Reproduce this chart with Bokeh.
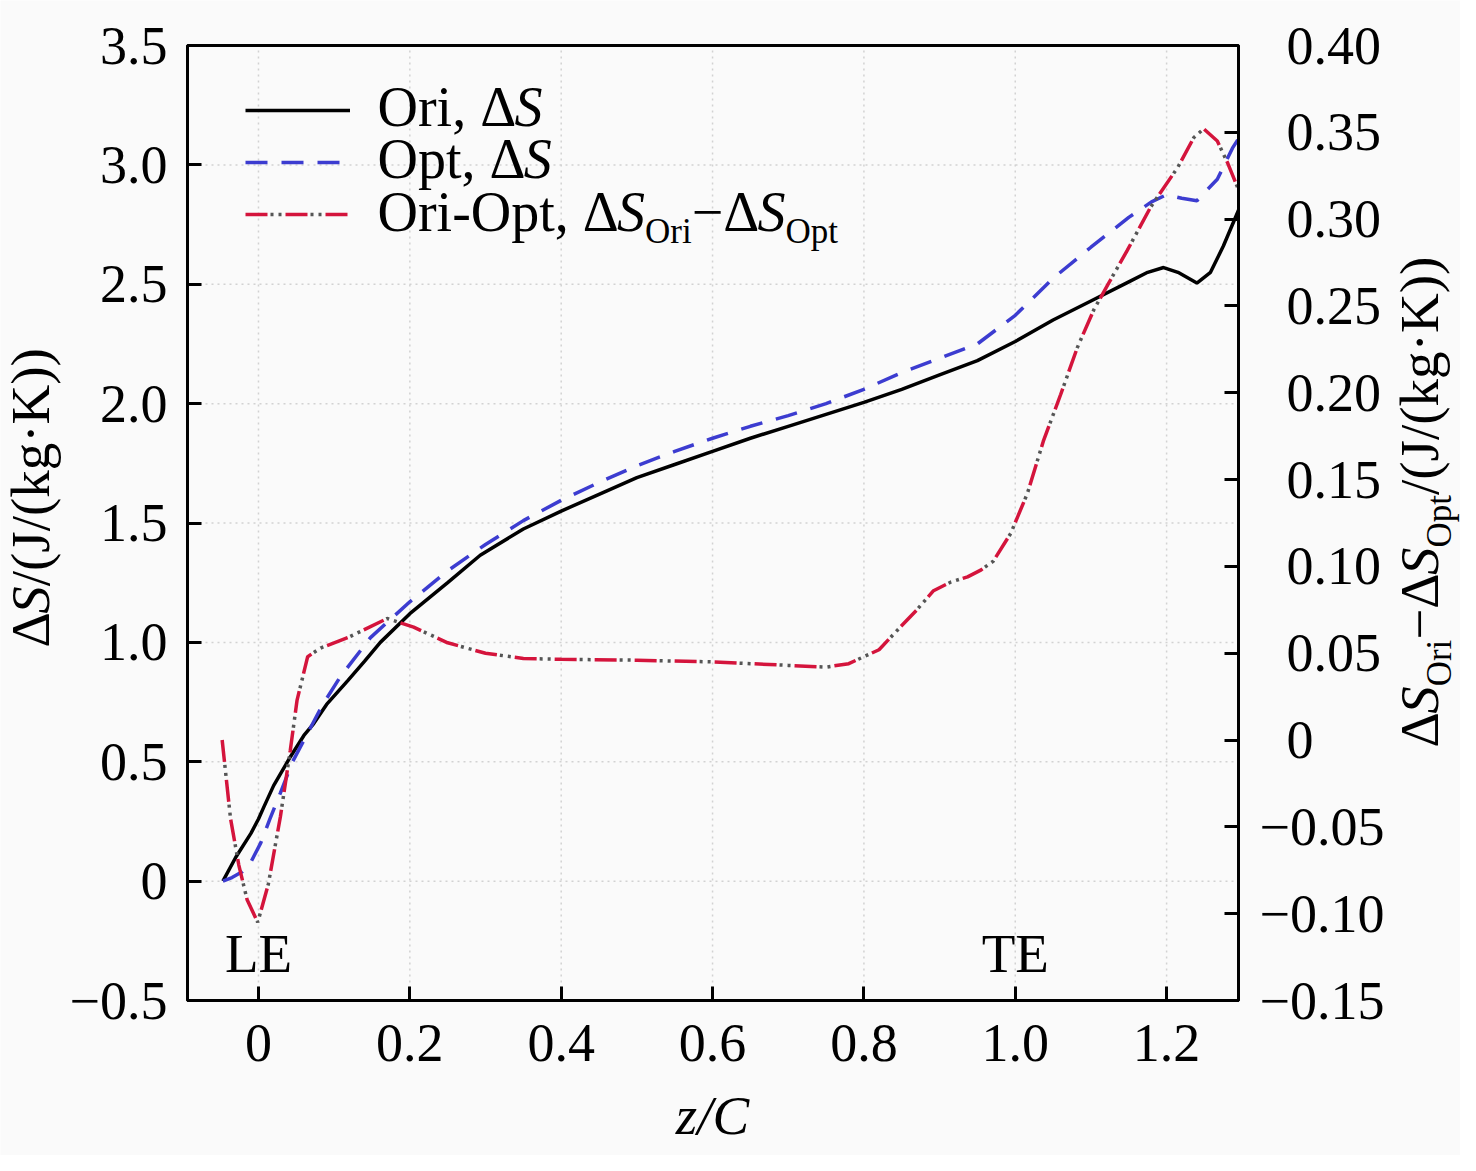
import math
from bokeh.plotting import figure
from bokeh.models import Range1d, LinearAxis, FixedTicker, Label, Legend, LegendItem, BoxAnnotation
from bokeh.embed import file_html
from bokeh.resources import INLINE

# ---------------- data ----------------
ori_x = [-0.047, -0.03, -0.01, 0.0, 0.007, 0.02, 0.042, 0.06, 0.073, 0.09, 0.118, 0.14, 0.161,
         0.2, 0.25, 0.293, 0.35, 0.4, 0.45, 0.5, 0.55, 0.6, 0.65, 0.7, 0.75, 0.8, 0.85, 0.9,
         0.95, 1.0, 1.05, 1.1, 1.15, 1.175, 1.196, 1.215, 1.24, 1.258, 1.275, 1.295]
ori_y = [0.0, 0.10, 0.20, 0.26, 0.31, 0.40, 0.52, 0.61, 0.66, 0.74, 0.84, 0.92, 1.0,
         1.12, 1.25, 1.365, 1.475, 1.55, 1.62, 1.69, 1.745, 1.80, 1.855, 1.905, 1.955, 2.005, 2.06, 2.12,
         2.18, 2.26, 2.35, 2.43, 2.51, 2.55, 2.57, 2.55, 2.505, 2.55, 2.66, 2.81]

opt_x = [-0.047, -0.035, -0.021, -0.01, 0.003, 0.015, 0.029, 0.045, 0.065, 0.085, 0.108, 0.148,
         0.2, 0.25, 0.3, 0.35, 0.4, 0.45, 0.5, 0.55, 0.6, 0.65, 0.7, 0.75, 0.8, 0.85, 0.9, 0.95,
         1.0, 1.05, 1.1, 1.15, 1.18, 1.2, 1.22, 1.24, 1.267, 1.287, 1.295]
opt_y = [0.0, 0.015, 0.04, 0.08, 0.16, 0.26, 0.37, 0.50, 0.62, 0.74, 0.855, 1.02,
         1.17, 1.30, 1.41, 1.51, 1.595, 1.67, 1.74, 1.80, 1.855, 1.905, 1.95, 2.0, 2.06, 2.13, 2.19, 2.25,
         2.37, 2.525, 2.655, 2.78, 2.845, 2.875, 2.86, 2.85, 2.94, 3.07, 3.11]

diff_x = [-0.048, -0.037, -0.026, -0.015, -0.001, 0.013, 0.029, 0.042, 0.051, 0.065, 0.082, 0.118,
          0.17, 0.205, 0.25, 0.3, 0.35, 0.4, 0.5, 0.6, 0.65, 0.7, 0.75, 0.78, 0.82, 0.848, 0.87,
          0.892, 0.915, 0.937, 0.955, 0.971, 0.994, 1.016, 1.037, 1.06, 1.082, 1.104, 1.122, 1.148,
          1.179, 1.215, 1.236, 1.249, 1.267, 1.281, 1.294]
diff_y = [0.0, -0.045, -0.072, -0.092, -0.105, -0.083, -0.044, -0.006, 0.023, 0.048, 0.053, 0.059,
          0.070, 0.065, 0.056, 0.050, 0.047, 0.0465, 0.046, 0.045, 0.044, 0.043, 0.042, 0.044, 0.052,
          0.065, 0.075, 0.086, 0.091, 0.094, 0.098, 0.103, 0.119, 0.142, 0.172, 0.199, 0.226, 0.248,
          0.262, 0.282, 0.307, 0.330, 0.347, 0.352, 0.345, 0.332, 0.318]

x_ticks = [0, 0.2, 0.4, 0.6, 0.8, 1.0, 1.2]
x_tick_labels = ["0", "0.2", "0.4", "0.6", "0.8", "1.0", "1.2"]
yl_ticks = [-0.5, 0, 0.5, 1.0, 1.5, 2.0, 2.5, 3.0, 3.5]
yl_tick_labels = ["\u22120.5", "0", "0.5", "1.0", "1.5", "2.0", "2.5", "3.0", "3.5"]
yr_ticks = [-0.15, -0.10, -0.05, 0, 0.05, 0.10, 0.15, 0.20, 0.25, 0.30, 0.35, 0.40]
yr_tick_labels = ["\u22120.15", "\u22120.10", "\u22120.05", "\u20070", "\u20070.05", "\u20070.10",
                  "\u20070.15", "\u20070.20", "\u20070.25", "\u20070.30", "\u20070.35", "\u20070.40"]

# ---------------- layout ----------------
CW, CH = 1460, 1155                       # canvas
BOX_L, BOX_T, BOX_R, BOX_B = 187, 45, 1238, 1000   # plot box in canvas px
X0, X1 = -0.0938, 1.2950
Y0, Y1 = -0.5, 3.5
YR0, YR1 = -0.15, 0.40
KX = (BOX_R - BOX_L) / (X1 - X0)
KY = (BOX_B - BOX_T) / (Y1 - Y0)
KR = (BOX_B - BOX_T) / (YR1 - YR0)
XA, XB = X0 - BOX_L / KX, X1 + (CW - BOX_R) / KX
YA, YB = Y0 - (CH - BOX_B) / KY, Y1 + BOX_T / KY
RA, RB = YR0 - (CH - BOX_B) / KR, YR1 + BOX_T / KR

FONT = "Liberation Serif"
BLUE = "#3c3cd0"
RED = "#d4143c"
DOT = "#555555"
BG = "#fafafa"

p = figure(width=CW, height=CH, x_range=Range1d(XA, XB), y_range=Range1d(YA, YB),
           output_backend="svg", toolbar_location=None,
           x_axis_location=None, y_axis_location=None,
           min_border=0, min_border_left=0, min_border_right=0, min_border_top=0, min_border_bottom=0)
p.title = None
p.background_fill_color = BG
p.border_fill_color = BG
p.outline_line_color = None
p.xgrid.grid_line_color = None
p.ygrid.grid_line_color = None
p.extra_y_ranges = {"right": Range1d(RA, RB)}

# grid (dotted) limited to the box
p.segment(x0=x_ticks, y0=[Y0] * len(x_ticks), x1=x_ticks, y1=[Y1] * len(x_ticks),
          line_color="#d2d2d2", line_dash="2 4", line_width=1.5)
p.segment(x0=[X0] * len(yl_ticks), y0=yl_ticks, x1=[X1] * len(yl_ticks), y1=yl_ticks,
          line_color="#d2d2d2", line_dash="2 4", line_width=1.5)

# axes fixed at the box edges
xax = LinearAxis(fixed_location=Y0, bounds=(X0, X1), ticker=FixedTicker(ticks=x_ticks))
xax.major_label_overrides = dict(zip(x_ticks, x_tick_labels))
lax = LinearAxis(fixed_location=X0, bounds=(Y0, Y1), ticker=FixedTicker(ticks=yl_ticks))
lax.major_label_overrides = dict(zip(yl_ticks, yl_tick_labels))
rax = LinearAxis(fixed_location=X1, bounds=(YR0, YR1), y_range_name="right",
                 ticker=FixedTicker(ticks=yr_ticks))
rax.major_label_overrides = dict(zip(yr_ticks, yr_tick_labels))
for ax in [xax, lax, rax]:
    ax.axis_line_width = 3
    ax.axis_line_color = "black"
    ax.major_tick_line_width = 3
    ax.major_tick_line_color = "black"
    ax.major_tick_in = 14
    ax.major_tick_out = 0
    ax.minor_tick_line_color = None
    ax.major_label_text_font = FONT
    ax.major_label_text_font_size = "54px"
    ax.major_label_text_color = "black"
xax.major_label_standoff = 24
lax.major_label_standoff = 20
rax.major_label_standoff = 21
p.add_layout(xax, "below")
p.add_layout(lax, "left")
p.add_layout(rax, "right")

# ---------------- lines ----------------
r_ori = p.line(ori_x, ori_y, line_color="black", line_width=3.5)
r_opt = p.line(opt_x, opt_y, line_color=BLUE, line_width=3.5, line_dash="22 14")
r_diff = p.line(diff_x, diff_y, y_range_name="right", line_color=RED, line_width=3.5,
                line_dash="22 18")
r_dots = p.line(diff_x, diff_y, y_range_name="right", line_color=DOT, line_width=3.5,
                line_dash="0 25 3 5 3 4")

# box outline (top edge)
p.add_layout(BoxAnnotation(left=X0, right=X1, bottom=Y0, top=Y1, fill_alpha=0,
                           line_color="black", line_width=3, line_alpha=1.0))

# legend: rows at 110/162/214 px, samples 245..350 px
G_H, G_SP, N_ROWS = 14, 38, 3
leg_h = N_ROWS * G_H + (N_ROWS - 1) * G_SP
legend = Legend(items=[LegendItem(label=" ", renderers=[r_ori]),
                       LegendItem(label=" ", renderers=[r_opt]),
                       LegendItem(label=" ", renderers=[r_diff, r_dots])],
                location=(245, CH - (110 - G_H // 2) - leg_h), margin=0, padding=0,
                spacing=G_SP, glyph_width=105, glyph_height=G_H, label_height=G_H,
                label_width=1, label_standoff=0, label_text_font_size="8px",
                border_line_alpha=0, background_fill_alpha=0)
p.add_layout(legend)

# ---------------- texts ----------------
W = {'O': 722, 'r': 333, 'i': 278, ',': 250, ' ': 250, '\u0394': 612, '-': 333, 'p': 500,
     't': 278, '\u2212': 564, '/': 278, '(': 333, ')': 333, 'J': 389, 'k': 500, 'g': 500,
     '\u00b7': 250, 'K': 722}
WI = {'S': 500}
BASE_FIX = 0.355   # em; observed baseline shift of Label text


def tw(s, size, italic):
    tab = WI if italic else W
    return sum(tab[c] for c in s) / 1000.0 * size


def px_to_x(px):
    return XA + px / KX


def py_to_y(py):
    return YB - py / KY


def draw_runs(runs, px, py, main, sub, shift, rotated=False):
    pos = 0.0
    for text, italic, is_sub in runs:
        size = sub if is_sub else main
        s = (shift if is_sub else 0) - BASE_FIX * size
        if rotated:
            dx, dy, ang = s, pos, math.pi / 2
        else:
            dx, dy, ang = pos, -s, 0.0
        p.add_layout(Label(x=px_to_x(px), y=py_to_y(py), x_offset=dx, y_offset=dy, text=text,
                           angle=ang, text_font=FONT, text_font_size=f"{size}px",
                           text_font_style="italic" if italic else "normal",
                           text_baseline="alphabetic", text_align="left", text_color="black"))
        pos += tw(text, size, italic)


def single(text, px, py, size, italic=False, x=None):
    p.add_layout(Label(x=px_to_x(px) if x is None else x, y=py_to_y(py), y_offset=BASE_FIX * size,
                       text=text, text_font=FONT, text_font_size=f"{size}px",
                       text_font_style="italic" if italic else "normal", text_align="center",
                       text_baseline="alphabetic", text_color="black"))


# legend texts
draw_runs([("Ori, \u0394", False, False), ("S", True, False)], 377, 126, 56, 35, 12)
draw_runs([("Opt, \u0394", False, False), ("S", True, False)], 377, 178, 56, 35, 12)
draw_runs([("Ori-Opt, \u0394", False, False), ("S", True, False), ("Ori", False, True),
           ("\u2212\u0394", False, False), ("S", True, False), ("Opt", False, True)],
          377, 231, 56, 35, 12)

# left axis title
draw_runs([("\u0394", False, False), ("S", True, False), ("/(J/(kg\u00b7K))", False, False)],
          50, 647, 55, 35, 13, rotated=True)
# right axis title
draw_runs([("\u0394", False, False), ("S", True, False), ("Ori", False, True),
           ("\u2212\u0394", False, False), ("S", True, False), ("Opt", False, True),
           ("/(J/(kg\u00b7K))", False, False)],
          1439, 747, 55, 35, 12, rotated=True)

# x axis title
single("z/C", 712, 1135, 55, italic=True)

# LE / TE markers
single("LE", 0, 973, 55, x=0.0)
single("TE", 0, 973, 55, x=1.0)

open("out.html", "w").write(file_html(p, INLINE))
